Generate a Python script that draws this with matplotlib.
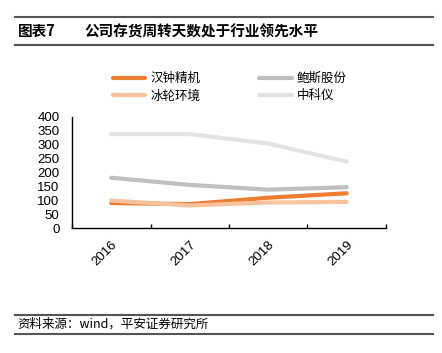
import matplotlib.pyplot as plt
from matplotlib.lines import Line2D

plt.rcParams['font.family'] = ['Liberation Sans', 'Noto Sans CJK SC']

years = ['2016', '2017', '2018', '2019']
hanzhong = [90, 86, 109, 125]
binglun = [99, 81, 92, 94]
baosi = [181, 155, 138, 147]
zhongkeyi = [338, 338, 304, 239]

fig = plt.figure(figsize=(4.42, 3.53), dpi=100)
ax = fig.add_axes([0.163, 0.354, 0.71, 0.315])

x = range(len(years))
l_zky, = ax.plot(x, zhongkeyi, color='#E3E3E3', lw=3, solid_capstyle='round')
l_bs, = ax.plot(x, baosi, color='#BFBFBF', lw=3, solid_capstyle='round')
l_hz, = ax.plot(x, hanzhong, color='#ED7D31', lw=3, solid_capstyle='round')
l_bl, = ax.plot(x, binglun, color='#F8C29C', lw=3, solid_capstyle='round')

ax.set_xlim(-0.5, 3.5)
ax.set_ylim(0, 400)
ax.set_yticks(range(0, 401, 50))
ax.tick_params(axis='y', length=0, labelsize=9.5, pad=9)

ax.set_xticks([-0.5, 0.5, 1.5, 2.5, 3.5])
ax.set_xticklabels([])
ax.set_xticks(list(x), minor=True)
ax.set_xticklabels(years, minor=True, rotation=45, ha='right', rotation_mode='anchor')
ax.tick_params(axis='x', which='major', direction='in', length=3, width=1)
ax.tick_params(axis='x', which='minor', length=0, labelsize=9.5, pad=8)

for s in ['top', 'right']:
    ax.spines[s].set_visible(False)
ax.spines['left'].set_linewidth(1)
ax.spines['bottom'].set_linewidth(1)

leg = fig.legend([l_hz, l_bl, l_bs, l_zky], ['汉钟精机', '冰轮环境', '鲍斯股份', '中科仪'],
                 ncol=2, loc='upper left', bbox_to_anchor=(0.23, 0.828), frameon=False,
                 handlelength=2.6, columnspacing=4.7, labelspacing=0.35,
                 handletextpad=0.4, prop={'family': 'Noto Sans CJK SC', 'size': 9})

# title block
fig.add_artist(Line2D([0.034, 0.98], [0.952, 0.952], color='#555555', lw=1.5))
fig.add_artist(Line2D([0.034, 0.98], [0.873, 0.873], color='#555555', lw=1.5))
fig.text(0.04, 0.912, '图表7', fontsize=10.5, fontweight='bold', va='center',
         family='Noto Sans CJK SC')
fig.text(0.19, 0.912, '公司存货周转天数处于行业领先水平', fontsize=10.5, fontweight='bold',
         va='center', family='Noto Sans CJK SC')

# footer
fig.add_artist(Line2D([0.034, 0.98], [0.108, 0.108], color='#555555', lw=1.5))
fig.add_artist(Line2D([0.034, 0.98], [0.055, 0.055], color='#555555', lw=1.5))
fig.text(0.04, 0.082, '资料来源：wind，平安证券研究所', fontsize=9, va='center',
         style='italic', family=['Noto Sans CJK SC', 'DejaVu Sans'])

fig.savefig('out.png', dpi=100)
